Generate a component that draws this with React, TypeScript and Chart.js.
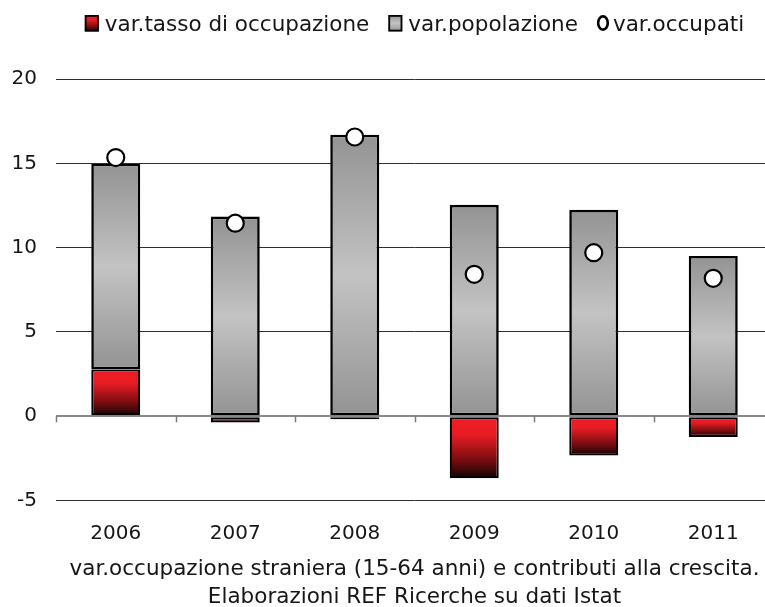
import React, { useEffect, useRef } from 'react';
import { Chart, registerables } from 'chart.js';

Chart.register(...registerables);

const years = ['2006', '2007', '2008', '2009', '2010', '2011'];
const tassoOccupazione = [2.78, -0.37, -0.17, -3.67, -2.32, -1.23];
const popolazione = [12.2, 11.84, 16.7, 12.54, 12.24, 9.51];
const occupati = [15.34, 11.45, 16.56, 8.42, 9.7, 8.18];
const yMin = -5;
const yMax = 20;
const yStep = 5;
const legendLabels = ['var.tasso di occupazione', 'var.popolazione', 'var.occupati'];
const captionLines = [
  'var.occupazione straniera (15-64 anni) e contributi alla crescita.',
  'Elaborazioni REF Ricerche su dati Istat',
];

const FONT = '"DejaVu Sans", Verdana, sans-serif';
const TEXT = '#161616';

function redGradient(c: CanvasRenderingContext2D, top: number, bot: number) {
  const g = c.createLinearGradient(0, top, 0, bot);
  g.addColorStop(0, '#ee1d25');
  g.addColorStop(0.3, '#e81c24');
  g.addColorStop(0.7, '#7a0d10');
  g.addColorStop(1, '#120303');
  return g;
}
function grayGradient(c: CanvasRenderingContext2D, top: number, bot: number) {
  const g = c.createLinearGradient(0, top, 0, bot);
  g.addColorStop(0, '#939393');
  g.addColorStop(0.5, '#c3c3c3');
  g.addColorStop(1, '#939393');
  return g;
}

function barFill(kind: 'red' | 'gray') {
  return (ctx: any) => {
    const fallback = kind === 'red' ? '#d81b22' : '#ababab';
    if (ctx.type !== 'data') return fallback;
    const chart = ctx.chart;
    const y = chart.scales && chart.scales.y;
    if (!y || !chart.chartArea) return fallback;
    const i = ctx.dataIndex;
    let lo: number, hi: number;
    if (kind === 'red') {
      lo = Math.min(0, tassoOccupazione[i]);
      hi = Math.max(0, tassoOccupazione[i]);
    } else {
      const base = tassoOccupazione[i] > 0 ? tassoOccupazione[i] : 0;
      lo = base;
      hi = base + popolazione[i];
    }
    const top = y.getPixelForValue(hi);
    const bot = y.getPixelForValue(lo);
    if (!isFinite(top) || !isFinite(bot) || bot - top < 0.5) return fallback;
    return kind === 'red' ? redGradient(chart.ctx, top, bot) : grayGradient(chart.ctx, top, bot);
  };
}

const legendPlugin = {
  id: 'customLegend',
  afterDraw(chart: any) {
    const { ctx, chartArea } = chart;
    ctx.save();
    ctx.font = `21.5px ${FONT}`;
    const boxW = 14;
    const boxH = 16.5;
    const gap = [6, 6, 4];
    const itemGap = 19;
    const markerW = [boxW, boxW, 12];
    const widths = legendLabels.map((t) => ctx.measureText(t).width);
    let total = 0;
    widths.forEach((w, i) => {
      total += markerW[i] + gap[i] + w;
    });
    total += itemGap * (legendLabels.length - 1);
    let x = (chartArea.left + chartArea.right) / 2 - total / 2;
    const baseline = chartArea.top - 48;
    const boxTop = baseline - 16;
    for (let i = 0; i < legendLabels.length; i++) {
      if (i < 2) {
        ctx.fillStyle = i === 0 ? redGradient(ctx, boxTop, boxTop + boxH) : grayGradient(ctx, boxTop, boxTop + boxH);
        ctx.fillRect(x, boxTop, boxW, boxH);
        ctx.lineWidth = 1.8;
        ctx.strokeStyle = '#000';
        ctx.strokeRect(x + 0.9, boxTop + 0.9, boxW - 1.8, boxH - 1.8);
      } else {
        ctx.beginPath();
        ctx.ellipse(x + 6, boxTop + 8, 4.8, 6.6, 0, 0, Math.PI * 2);
        ctx.fillStyle = '#fff';
        ctx.fill();
        ctx.lineWidth = 2.6;
        ctx.strokeStyle = '#000';
        ctx.stroke();
      }
      x += markerW[i] + gap[i];
      ctx.fillStyle = TEXT;
      ctx.textBaseline = 'alphabetic';
      ctx.textAlign = 'left';
      ctx.fillText(legendLabels[i], x, baseline);
      x += widths[i] + itemGap;
    }
    ctx.restore();
  },
};

const zeroTicksPlugin = {
  id: 'zeroTicks',
  beforeDatasetsDraw(chart: any) {
    const { ctx, chartArea, scales } = chart;
    const y0 = scales.y.getPixelForValue(0);
    const n = years.length;
    const step = (chartArea.right - chartArea.left) / n;
    ctx.save();
    ctx.strokeStyle = '#7a7a7a';
    ctx.lineWidth = 1.5;
    for (let i = 0; i <= n; i++) {
      const x = Math.round(chartArea.left + i * step) + 0.5;
      ctx.beginPath();
      ctx.moveTo(x, y0);
      ctx.lineTo(x, y0 + 6);
      ctx.stroke();
    }
    ctx.restore();
  },
};

export default function App() {
  const ref = useRef<HTMLCanvasElement | null>(null);
  useEffect(() => {
    if (!ref.current) return;
    const chart = new Chart(ref.current, {
      type: 'bar',
      data: {
        labels: years,
        datasets: [
          {
            type: 'line',
            label: legendLabels[2],
            data: occupati,
            showLine: false,
            pointRadius: 8.5,
            pointHoverRadius: 8.5,
            pointBackgroundColor: '#ffffff',
            pointBorderColor: '#000000',
            pointBorderWidth: 2.2,
            order: 0,
            stack: 'points',
          } as any,
          {
            type: 'bar',
            label: legendLabels[0],
            data: tassoOccupazione,
            backgroundColor: barFill('red'),
            borderColor: '#000',
            borderWidth: 2.2,
            borderSkipped: false,
            barPercentage: 0.41,
            categoryPercentage: 1,
            order: 1,
            stack: 'bars',
          },
          {
            type: 'bar',
            label: legendLabels[1],
            data: popolazione,
            backgroundColor: barFill('gray'),
            borderColor: '#000',
            borderWidth: 2.6,
            borderSkipped: false,
            barPercentage: 0.41,
            categoryPercentage: 1,
            order: 1,
            stack: 'bars',
          },
        ],
      },
      options: {
        animation: false,
        responsive: false,
        events: [],
        layout: { autoPadding: false, padding: { top: 79, left: 0, right: 0, bottom: 0 } },
        plugins: {
          legend: { display: false },
          tooltip: { enabled: false },
          title: { display: false },
        },
        scales: {
          x: {
            stacked: true,
            grid: { display: false, drawTicks: false },
            border: { display: false },
            ticks: { font: { family: FONT, size: 20 }, color: TEXT, padding: 21 },
            title: {
              display: true,
              text: captionLines,
              font: { family: FONT, size: 21.5, lineHeight: 1.3 },
              color: TEXT,
              padding: { top: -11.5, bottom: 0 },
            },
          },
          y: {
            stacked: true,
            min: yMin,
            max: yMax,
            ticks: { stepSize: yStep, font: { family: FONT, size: 20 }, color: TEXT, padding: 19 },
            grid: {
              drawTicks: false,
              color: (c: any) => (c.tick && c.tick.value === 0 ? '#8a8a8a' : '#2e2e2e'),
              lineWidth: (c: any) => (c.tick && c.tick.value === 0 ? 2 : 1),
            },
            border: { display: false },
            afterFit: (s: any) => {
              s.width = 56;
            },
          },
        },
      },
      plugins: [legendPlugin, zeroTicksPlugin],
    });
    return () => chart.destroy();
  }, []);

  return (
    <div
      style={{
        position: 'fixed',
        left: 0,
        top: 0,
        width: 765,
        height: 607,
        overflow: 'hidden',
        background: '#fff',
      }}
    >
      <canvas ref={ref} width={773} height={611} style={{ display: 'block' }} />
    </div>
  );
}
